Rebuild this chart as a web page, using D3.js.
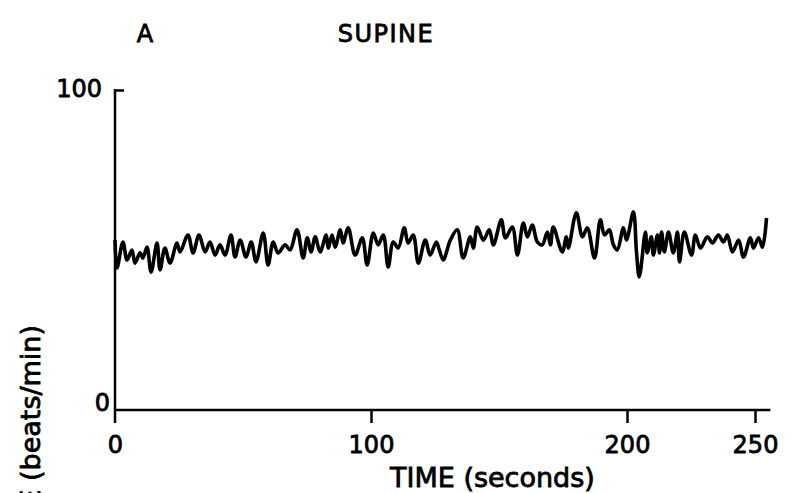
<!DOCTYPE html>
<html><head><meta charset="utf-8">
<script src="https://cdn.jsdelivr.net/npm/d3@7"></script>
<style>
html,body{margin:0;padding:0;background:#fff;}
svg{display:block;}
text{font-family:"DejaVu Sans",sans-serif;fill:#000;}
</style></head>
<body>
<svg id="chart" width="794" height="493"></svg>
<script>
// ---- data ----
const timeSec = [0.0,0.8,3.1,4.7,6.6,7.8,9.8,10.9,12.5,14.1,16.4,17.6,19.5,21.5,24.2,25.4,28.5,30.5,32.8,35.2,37.1,39.1,41.0,43.0,45.3,46.9,48.9,51.2,53.2,55.1,57.9,59.8,61.8,63.7,66.5,68.4,71.1,73.5,75.1,76.6,78.2,80.1,82.5,83.3,84.8,86.0,88.0,89.1,91.1,93.8,96.6,98.5,100.9,102.8,104.8,106.7,108.7,110.6,113.0,114.5,116.5,118.5,121.2,123.1,125.5,126.7,128.2,131.0,133.7,136.0,138.8,140.0,141.5,143.9,146.2,147.8,150.9,152.5,155.2,157.2,159.5,161.1,163.0,165.0,166.9,168.9,170.1,171.2,174.7,176.3,177.1,180.2,182.6,184.5,187.3,189.6,191.2,193.1,194.7,196.2,198.6,199.8,202.5,203.7,204.8,207.2,207.9,209.5,210.3,211.9,212.7,213.5,214.6,216.2,218.1,219.7,220.5,222.4,225.2,226.7,228.7,231.4,233.4,235.7,237.7,239.2,241.2,243.6,245.5,248.2,249.4,251.4,252.9,254.5];
const heartRate = [53.1,44.4,52.5,46.9,50.0,45.9,49.1,47.5,50.9,43.1,52.2,43.8,50.6,45.9,52.2,49.4,54.7,49.1,54.7,49.4,52.5,48.4,51.6,48.4,54.7,47.8,53.1,47.8,52.5,46.3,55.3,45.3,52.5,49.1,51.6,50.0,56.3,47.5,53.8,49.4,54.1,49.4,54.7,50.6,54.7,50.9,56.3,52.2,56.9,48.4,53.8,45.3,55.3,51.6,54.7,44.7,52.5,50.6,56.9,52.2,54.7,45.9,53.1,48.4,52.5,50.0,46.9,53.1,56.3,47.5,54.1,50.6,57.2,53.1,56.3,51.6,59.4,53.8,57.2,48.4,58.4,54.1,57.8,52.5,51.6,55.6,51.6,57.2,49.4,54.1,50.6,61.6,54.1,56.9,47.5,59.4,54.7,56.3,51.6,50.0,56.9,53.1,61.9,49.4,41.6,55.6,49.1,54.1,48.4,54.7,49.1,55.6,49.4,55.6,49.1,55.6,46.3,55.6,48.4,54.7,50.6,54.1,52.2,54.7,52.5,54.7,49.4,53.1,47.8,53.8,50.6,53.8,50.9,60.0];
const xTicks = [0, 100, 200, 250];
const yTicks = [0, 100];
const panelLabel = "A";
const titleText = "SUPINE";
const xTitle = "TIME (seconds)";
const yTitle = "HEART RATE (beats/min)";

// ---- layout ----
const svg = d3.select("#chart");
const x = d3.scaleLinear().domain([0, 250]).range([115, 755]);
const y = d3.scaleLinear().domain([0, 100]).range([410, 90]);

// titles
svg.append("text").attr("x", 145).attr("y", 42).attr("text-anchor", "middle")
  .style("font-size", "24px").style("stroke", "#000").style("stroke-width", 0.8).text(panelLabel);
svg.append("text").attr("x", 386).attr("y", 42).attr("text-anchor", "middle")
  .style("font-size", "24px").style("letter-spacing", "1.5px").style("stroke", "#000").style("stroke-width", 0.8).text(titleText);

// x axis
const gx = svg.append("g").attr("transform", `translate(0,${y(0)})`)
  .call(d3.axisBottom(x).tickValues(xTicks).tickSize(13).tickPadding(8).tickFormat(d3.format("d")));
gx.select(".domain").remove();
gx.selectAll(".tick line").attr("stroke", "#000").attr("stroke-width", 2.5);
gx.selectAll(".tick text").style("font-size", "24px").style("font-family", "'DejaVu Sans',sans-serif")
  .style("stroke", "#000").style("stroke-width", 0.8).attr("dy", "0.9em");
gx.selectAll(".tick").filter(d => d === 0).select("line").remove();

svg.append("line").attr("x1", x(0)).attr("x2", x(256)).attr("y1", y(0)).attr("y2", y(0))
  .attr("stroke", "#000").attr("stroke-width", 2.5);

// y axis
svg.append("line").attr("x1", x(0)).attr("x2", x(0)).attr("y1", y(100) - 1).attr("y2", y(0) + 13)
  .attr("stroke", "#000").attr("stroke-width", 2.5);
const gy = svg.append("g").attr("transform", `translate(${x(0)},0)`)
  .call(d3.axisRight(y).tickValues([100]).tickSize(9).tickFormat(""));
gy.select(".domain").remove();
gy.selectAll(".tick line").attr("stroke", "#000").attr("stroke-width", 2.5);

const yLabPad = {0: 5, 100: 13};
const yLabDy = {0: -8, 100: -2};
svg.append("g").selectAll("text").data(yTicks).join("text")
  .attr("x", d => x(0) - yLabPad[d]).attr("y", d => y(d) + yLabDy[d])
  .attr("dy", "0.36em").attr("text-anchor", "end")
  .style("font-size", "24px").style("stroke", "#000").style("stroke-width", 0.8)
  .text(d => d);

// axis titles
svg.append("text").attr("x", 390).attr("y", 487).attr("text-anchor", "start")
  .style("font-size", "27px").style("stroke", "#000").style("stroke-width", 0.8).text(xTitle);
svg.append("text").attr("transform", "translate(40,325) rotate(-90)").attr("text-anchor", "end")
  .style("font-size", "27px").style("stroke", "#000").style("stroke-width", 0.8).text(yTitle);

// trace
const pts = timeSec.map((t, i) => [t, heartRate[i]]);
svg.append("path").datum(pts)
  .attr("fill", "none").attr("stroke", "#000").attr("stroke-width", 3.6).attr("stroke-linejoin", "round")
  .attr("d", d3.line().x(d => x(d[0])).y(d => y(d[1])).curve(d3.curveCatmullRom.alpha(0.5)));
</script>
</body></html>
